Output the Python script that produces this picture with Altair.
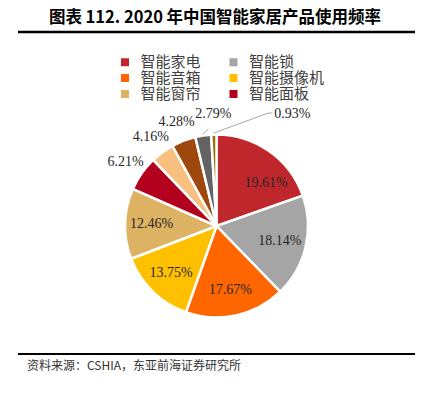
import altair as alt
import pandas as pd

title_text = "图表 112.  2020 年中国智能家居产品使用频率"
source_text = "资料来源：CSHIA，东亚前海证券研究所"

names = ["智能家电", "智能锁", "智能音箱", "智能摄像机", "智能窗帘", "智能面板",
         "智能照明", "智能插座", "智能传感器", "其他"]
values = [19.61, 18.14, 17.67, 13.75, 12.46, 6.21, 4.16, 4.28, 2.79, 0.93]
colors = ["#C0272D", "#A5A5A5", "#FF6600", "#FFC000", "#DDB263", "#B3001E",
          "#F8C07F", "#9E480E", "#636363", "#997300"]
legend_names = names[:6]

df = pd.DataFrame({"name": names, "value": values, "order": list(range(len(names)))})

W, H = 407, 380
CX, CY = 208.5, 218.0
R = 91.5
R_IN, R_OUT, R_EDGE = 65, 111, 93

num_font = "Liberation Serif"
cjk_font = "Noto Sans CJK SC"
txt_color = "#262626"

base = (
    alt.Chart(df)
    .transform_window(cum="sum(value)", sort=[alt.SortField("order")])
    .transform_joinaggregate(total="sum(value)")
    .transform_calculate(
        mid="2*PI*(datum.cum - datum.value/2)/datum.total",
        label="format(datum.value, '.2f') + '%'",
    )
    .transform_calculate(r=f"datum.order < 5 ? {R_IN} : {R_OUT}")
    .transform_calculate(
        lx=f"{CX} + datum.r*sin(datum.mid)",
        ly=f"{CY} - datum.r*cos(datum.mid)",
        ex=f"{CX} + {R_EDGE}*sin(datum.mid)",
        ey=f"{CY} - {R_EDGE}*cos(datum.mid)",
    )
)

pie = alt.Chart(df).mark_arc(outerRadius=R, stroke="white", strokeWidth=2.5).encode(
    theta=alt.Theta("value:Q", stack=True),
    order=alt.Order("order:Q"),
    color=alt.Color(
        "name:N",
        scale=alt.Scale(domain=names, range=colors),
        legend=alt.Legend(
            orient="none", legendX=109.5, legendY=46.5, columns=2, title=None,
            direction="horizontal",
            values=legend_names, symbolType="square", symbolSize=64,
            symbolStrokeWidth=0, labelFont=cjk_font, labelFontSize=15,
            labelColor="#404040", labelOffset=8, columnPadding=24.5,
            rowPadding=0, padding=0, labelLimit=200,
        ),
    ),
    x=alt.value(CX),
    y=alt.value(CY),
)

def txt(filt, dx=0, dy=0):
    return base.transform_filter(filt).mark_text(
        font=num_font, fontSize=14, color=txt_color, align="center",
        baseline="middle", dx=dx, dy=dy,
    ).encode(
        x=alt.X("lx:Q", scale=None, axis=None),
        y=alt.Y("ly:Q", scale=None, axis=None),
        text="label:N",
    )

labels_main = txt("datum.order != 0 && datum.order != 8 && datum.order != 9")
label_0 = txt("datum.order == 0", dx=12, dy=10)
label_8 = txt("datum.order == 8", dx=13, dy=-2)
label_9 = txt("datum.order == 9", dx=79, dy=-1)

lead_color = "#A6A6A6"
lead8 = (
    base.transform_filter("datum.order == 8")
    .transform_calculate(x1="datum.lx + 8", y1="datum.ly + 13")
    .mark_rule(color=lead_color, strokeWidth=1)
    .encode(x=alt.X("ex:Q", scale=None, axis=None), y=alt.Y("ey:Q", scale=None, axis=None),
            x2="x1:Q", y2="y1:Q")
)
lead9a = (
    base.transform_filter("datum.order == 9")
    .transform_calculate(x1="datum.lx + 55", y1="datum.ly - 2")
    .mark_rule(color=lead_color, strokeWidth=1)
    .encode(x=alt.X("ex:Q", scale=None, axis=None), y=alt.Y("ey:Q", scale=None, axis=None),
            x2="x1:Q", y2="y1:Q")
)
lead9b = (
    base.transform_filter("datum.order == 9")
    .transform_calculate(x0="datum.lx + 55", x1="datum.lx + 59", y1="datum.ly - 2")
    .mark_rule(color=lead_color, strokeWidth=1)
    .encode(x=alt.X("x0:Q", scale=None, axis=None), y=alt.Y("y1:Q", scale=None, axis=None),
            x2="x1:Q", y2="y1:Q")
)

one = pd.DataFrame({"t": [title_text]})
title = alt.Chart(one).mark_text(
    font=cjk_font, fontSize=16.5, fontWeight="bold", color="#000000",
    align="center", baseline="middle",
).encode(text="t:N", x=alt.value(207), y=alt.value(10))

src = alt.Chart(pd.DataFrame({"t": [source_text]})).mark_text(
    font=cjk_font, fontSize=12, color="#333333", align="left", baseline="middle",
).encode(text="t:N", x=alt.value(19), y=alt.value(358))

top_rule = alt.Chart(one).mark_rule(color="#000000", strokeWidth=2.5).encode(
    x=alt.value(10), x2=alt.value(410), y=alt.value(24))
bot_rule = alt.Chart(one).mark_rule(color="#000000", strokeWidth=2).encode(
    x=alt.value(10), x2=alt.value(410), y=alt.value(346))

chart = alt.layer(
    pie, lead8, lead9a, lead9b, labels_main, label_0, label_8, label_9,
    title, src, top_rule, bot_rule,
).properties(
    width=W, height=H, autosize=alt.AutoSizeParams(type="none"), padding=0,
    background="white",
).configure_view(stroke=None)

chart.save("out.html", embed_options={"renderer": "svg", "actions": False})
